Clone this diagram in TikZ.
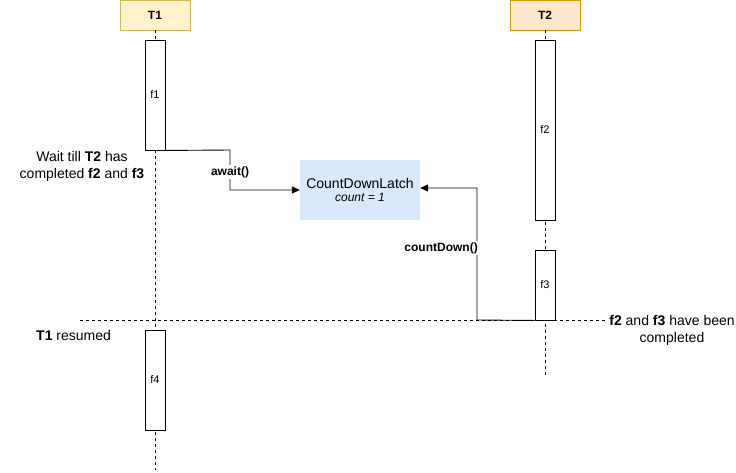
\documentclass[tikz,border=0pt]{standalone}
\usepackage{fontspec}
\setmainfont{Liberation Sans}
\usetikzlibrary{arrows.meta}
\definecolor{yfill}{HTML}{FFF2CC}
\definecolor{ydraw}{HTML}{D6B656}
\definecolor{ofill}{HTML}{FFE6CC}
\definecolor{odraw}{HTML}{D79B00}
\definecolor{bfill}{HTML}{DAE8FC}
\tikzset{
  head/.style={draw=#1, line width=0.9pt, minimum width=70pt, minimum height=30pt, inner sep=0pt, font=\bfseries\fontsize{12}{14}\selectfont},
  act/.style={draw, fill=white, line width=0.9pt, minimum width=20pt, inner sep=0pt, font=\fontsize{11}{13}\selectfont},
  life/.style={line width=0.7pt, dash pattern=on 3pt off 3pt},
  conn/.style={line width=0.9pt, -{Triangle[length=8pt,width=7pt]}},
  txt/.style={font=\fontsize{14}{17}\selectfont, align=center, inner sep=0pt},
  lbl/.style={font=\bfseries\fontsize{12}{14}\selectfont, fill=white, inner sep=1pt},
}
\begin{document}
\begin{tikzpicture}[x=1pt,y=-1pt]
\useasboundingbox (0,0) rectangle (736,472);
% heads
\node[head=ydraw, fill=yfill] (T1) at (155,15) {T1};
\node[head=odraw, fill=ofill] (T2) at (545,15) {T2};
% lifelines
\coordinate (l1end) at (155,470);
\coordinate (l2end) at (545,376);
\draw[life] (T1.south) -- (l1end);
\draw[life] (T2.south) -- (l2end);
% barrier line
\coordinate (bl) at (80,320);
\coordinate (br) at (606,320);
\draw[life] (bl) -- (br);
% activations
\node[act, minimum height=110pt] (f1) at (155,95) {f1};
\node[act, minimum height=180pt] (f2) at (545,130) {f2};
\node[act, minimum height=70pt] (f3) at (545,285) {f3};
\node[act, minimum height=100pt] (f4) at (155,380) {f4};
% latch
\node[fill=bfill, minimum width=120pt, minimum height=60pt, inner sep=0pt, align=center] (L) at (360,190)
  {\fontsize{14}{16}\selectfont CountDownLatch\\[1pt]{\fontsize{12}{14}\selectfont\itshape count = 1}};
% connectors
\draw[conn] (f1.south east) -- (230,150) -- (230,190) -- (L.west);
\node[lbl] (aw) at (230,172) {await()};
\draw[conn] (f3.south west) -- (477,320) -- (477,188) -- (L.east |- 0,188);
\node[lbl, anchor=east] (cd) at (479,248) {countDown()};
% texts
\node[txt] (w) at (82,166) {Wait till \textbf{T2} has\\completed \textbf{f2} and \textbf{f3}};
\node[txt, anchor=west] (r) at (36,335) {\textbf{T1} resumed};
\node[txt] (c) at (672,330) {\textbf{f2} and \textbf{f3} have been\\completed};
\end{tikzpicture}
\end{document}
